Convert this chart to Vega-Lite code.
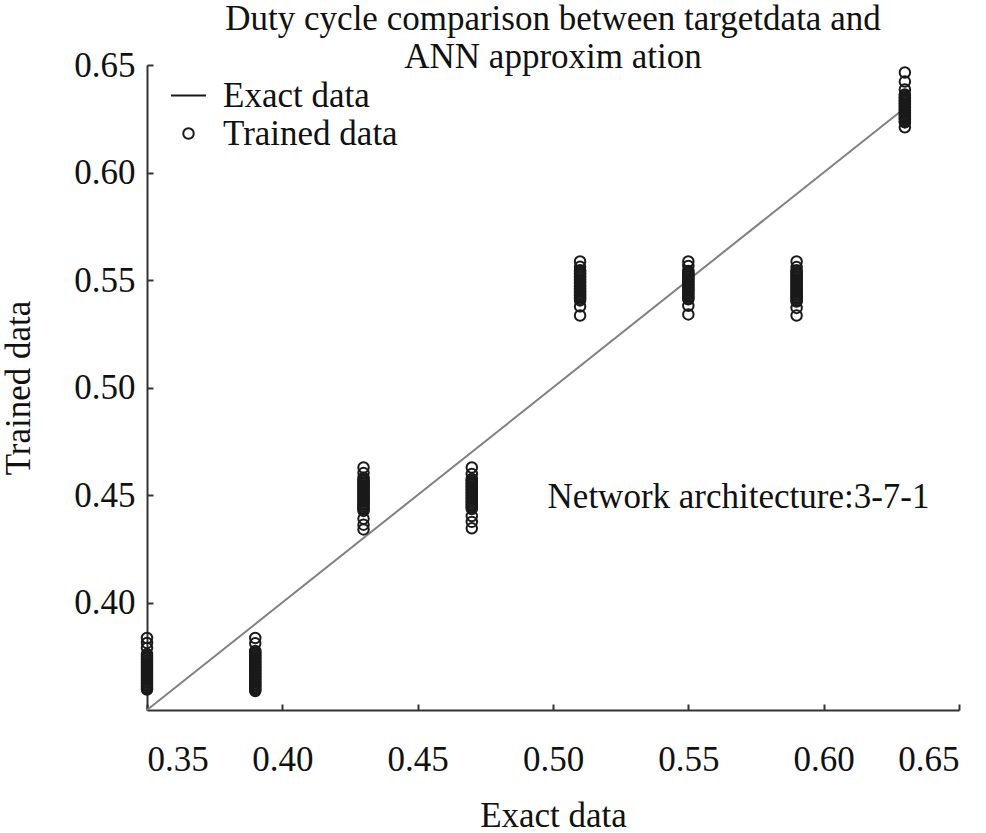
{
  "$schema": "https://vega.github.io/schema/vega-lite/v6.json",
  "autosize": "none",
  "width": 812,
  "height": 645,
  "padding": {"left": 147, "top": 65, "right": 27, "bottom": 123},
  "background": "white",
  "title": {
    "text": ["Duty cycle comparison between targetdata and", "ANN approxim ation"],
    "frame": "group",
    "font": "Liberation Serif",
    "fontSize": 35,
    "fontWeight": "normal",
    "color": "#111",
    "anchor": "middle",
    "baseline": "alphabetic",
    "lineHeight": 38,
    "offset": -55
  },
  "datasets": {
    "exact": [
      {"exact": 0.35, "trained": 0.35},
      {"exact": 0.63, "trained": 0.63}
    ],
    "trained": [
      {"exact": 0.35, "trained": 0.3835}, {"exact": 0.35, "trained": 0.3812}, {"exact": 0.35, "trained": 0.3788},
      {"exact": 0.35, "trained": 0.3760}, {"exact": 0.35, "trained": 0.3753}, {"exact": 0.35, "trained": 0.3746},
      {"exact": 0.35, "trained": 0.3739}, {"exact": 0.35, "trained": 0.3732}, {"exact": 0.35, "trained": 0.3725},
      {"exact": 0.35, "trained": 0.3718}, {"exact": 0.35, "trained": 0.3711}, {"exact": 0.35, "trained": 0.3704},
      {"exact": 0.35, "trained": 0.3697}, {"exact": 0.35, "trained": 0.3690}, {"exact": 0.35, "trained": 0.3683},
      {"exact": 0.35, "trained": 0.3676}, {"exact": 0.35, "trained": 0.3669}, {"exact": 0.35, "trained": 0.3662},
      {"exact": 0.35, "trained": 0.3655}, {"exact": 0.35, "trained": 0.3648}, {"exact": 0.35, "trained": 0.3641},
      {"exact": 0.35, "trained": 0.3634}, {"exact": 0.35, "trained": 0.3627}, {"exact": 0.35, "trained": 0.3620},
      {"exact": 0.35, "trained": 0.3613}, {"exact": 0.35, "trained": 0.3606}, {"exact": 0.35, "trained": 0.3599},
      {"exact": 0.35, "trained": 0.3595},
      {"exact": 0.39, "trained": 0.3835}, {"exact": 0.39, "trained": 0.3810}, {"exact": 0.39, "trained": 0.3775},
      {"exact": 0.39, "trained": 0.3768}, {"exact": 0.39, "trained": 0.3761}, {"exact": 0.39, "trained": 0.3754},
      {"exact": 0.39, "trained": 0.3747}, {"exact": 0.39, "trained": 0.3740}, {"exact": 0.39, "trained": 0.3733},
      {"exact": 0.39, "trained": 0.3726}, {"exact": 0.39, "trained": 0.3719}, {"exact": 0.39, "trained": 0.3712},
      {"exact": 0.39, "trained": 0.3705}, {"exact": 0.39, "trained": 0.3698}, {"exact": 0.39, "trained": 0.3691},
      {"exact": 0.39, "trained": 0.3684}, {"exact": 0.39, "trained": 0.3677}, {"exact": 0.39, "trained": 0.3670},
      {"exact": 0.39, "trained": 0.3663}, {"exact": 0.39, "trained": 0.3656}, {"exact": 0.39, "trained": 0.3649},
      {"exact": 0.39, "trained": 0.3642}, {"exact": 0.39, "trained": 0.3635}, {"exact": 0.39, "trained": 0.3628},
      {"exact": 0.39, "trained": 0.3621}, {"exact": 0.39, "trained": 0.3614}, {"exact": 0.39, "trained": 0.3607},
      {"exact": 0.39, "trained": 0.3600}, {"exact": 0.39, "trained": 0.3594}, {"exact": 0.39, "trained": 0.3588},
      {"exact": 0.43, "trained": 0.4628}, {"exact": 0.43, "trained": 0.4602}, {"exact": 0.43, "trained": 0.4580},
      {"exact": 0.43, "trained": 0.4573}, {"exact": 0.43, "trained": 0.4566}, {"exact": 0.43, "trained": 0.4559},
      {"exact": 0.43, "trained": 0.4552}, {"exact": 0.43, "trained": 0.4545}, {"exact": 0.43, "trained": 0.4538},
      {"exact": 0.43, "trained": 0.4531}, {"exact": 0.43, "trained": 0.4524}, {"exact": 0.43, "trained": 0.4517},
      {"exact": 0.43, "trained": 0.4510}, {"exact": 0.43, "trained": 0.4503}, {"exact": 0.43, "trained": 0.4496},
      {"exact": 0.43, "trained": 0.4489}, {"exact": 0.43, "trained": 0.4482}, {"exact": 0.43, "trained": 0.4475},
      {"exact": 0.43, "trained": 0.4468}, {"exact": 0.43, "trained": 0.4461}, {"exact": 0.43, "trained": 0.4454},
      {"exact": 0.43, "trained": 0.4447}, {"exact": 0.43, "trained": 0.4440}, {"exact": 0.43, "trained": 0.4433},
      {"exact": 0.43, "trained": 0.4426}, {"exact": 0.43, "trained": 0.4390}, {"exact": 0.43, "trained": 0.4362},
      {"exact": 0.43, "trained": 0.4340},
      {"exact": 0.47, "trained": 0.4628}, {"exact": 0.47, "trained": 0.4598}, {"exact": 0.47, "trained": 0.4575},
      {"exact": 0.47, "trained": 0.4568}, {"exact": 0.47, "trained": 0.4561}, {"exact": 0.47, "trained": 0.4554},
      {"exact": 0.47, "trained": 0.4547}, {"exact": 0.47, "trained": 0.4540}, {"exact": 0.47, "trained": 0.4533},
      {"exact": 0.47, "trained": 0.4526}, {"exact": 0.47, "trained": 0.4519}, {"exact": 0.47, "trained": 0.4512},
      {"exact": 0.47, "trained": 0.4505}, {"exact": 0.47, "trained": 0.4498}, {"exact": 0.47, "trained": 0.4491},
      {"exact": 0.47, "trained": 0.4484}, {"exact": 0.47, "trained": 0.4477}, {"exact": 0.47, "trained": 0.4470},
      {"exact": 0.47, "trained": 0.4463}, {"exact": 0.47, "trained": 0.4456}, {"exact": 0.47, "trained": 0.4449},
      {"exact": 0.47, "trained": 0.4442}, {"exact": 0.47, "trained": 0.4435}, {"exact": 0.47, "trained": 0.4402},
      {"exact": 0.47, "trained": 0.4375}, {"exact": 0.47, "trained": 0.4345},
      {"exact": 0.51, "trained": 0.5586}, {"exact": 0.51, "trained": 0.5562}, {"exact": 0.51, "trained": 0.5545},
      {"exact": 0.51, "trained": 0.5538}, {"exact": 0.51, "trained": 0.5531}, {"exact": 0.51, "trained": 0.5524},
      {"exact": 0.51, "trained": 0.5517}, {"exact": 0.51, "trained": 0.5510}, {"exact": 0.51, "trained": 0.5503},
      {"exact": 0.51, "trained": 0.5496}, {"exact": 0.51, "trained": 0.5489}, {"exact": 0.51, "trained": 0.5482},
      {"exact": 0.51, "trained": 0.5475}, {"exact": 0.51, "trained": 0.5468}, {"exact": 0.51, "trained": 0.5461},
      {"exact": 0.51, "trained": 0.5454}, {"exact": 0.51, "trained": 0.5447}, {"exact": 0.51, "trained": 0.5440},
      {"exact": 0.51, "trained": 0.5433}, {"exact": 0.51, "trained": 0.5426}, {"exact": 0.51, "trained": 0.5419},
      {"exact": 0.51, "trained": 0.5412}, {"exact": 0.51, "trained": 0.5405}, {"exact": 0.51, "trained": 0.5377},
      {"exact": 0.51, "trained": 0.5335},
      {"exact": 0.55, "trained": 0.5586}, {"exact": 0.55, "trained": 0.5565}, {"exact": 0.55, "trained": 0.5542},
      {"exact": 0.55, "trained": 0.5535}, {"exact": 0.55, "trained": 0.5528}, {"exact": 0.55, "trained": 0.5521},
      {"exact": 0.55, "trained": 0.5514}, {"exact": 0.55, "trained": 0.5507}, {"exact": 0.55, "trained": 0.5500},
      {"exact": 0.55, "trained": 0.5493}, {"exact": 0.55, "trained": 0.5486}, {"exact": 0.55, "trained": 0.5479},
      {"exact": 0.55, "trained": 0.5472}, {"exact": 0.55, "trained": 0.5465}, {"exact": 0.55, "trained": 0.5458},
      {"exact": 0.55, "trained": 0.5451}, {"exact": 0.55, "trained": 0.5444}, {"exact": 0.55, "trained": 0.5437},
      {"exact": 0.55, "trained": 0.5430}, {"exact": 0.55, "trained": 0.5423}, {"exact": 0.55, "trained": 0.5416},
      {"exact": 0.55, "trained": 0.5410}, {"exact": 0.55, "trained": 0.5380}, {"exact": 0.55, "trained": 0.5340},
      {"exact": 0.59, "trained": 0.5586}, {"exact": 0.59, "trained": 0.5560}, {"exact": 0.59, "trained": 0.5545},
      {"exact": 0.59, "trained": 0.5538}, {"exact": 0.59, "trained": 0.5531}, {"exact": 0.59, "trained": 0.5524},
      {"exact": 0.59, "trained": 0.5517}, {"exact": 0.59, "trained": 0.5510}, {"exact": 0.59, "trained": 0.5503},
      {"exact": 0.59, "trained": 0.5496}, {"exact": 0.59, "trained": 0.5489}, {"exact": 0.59, "trained": 0.5482},
      {"exact": 0.59, "trained": 0.5475}, {"exact": 0.59, "trained": 0.5468}, {"exact": 0.59, "trained": 0.5461},
      {"exact": 0.59, "trained": 0.5454}, {"exact": 0.59, "trained": 0.5447}, {"exact": 0.59, "trained": 0.5440},
      {"exact": 0.59, "trained": 0.5433}, {"exact": 0.59, "trained": 0.5426}, {"exact": 0.59, "trained": 0.5419},
      {"exact": 0.59, "trained": 0.5412}, {"exact": 0.59, "trained": 0.5405}, {"exact": 0.59, "trained": 0.5400},
      {"exact": 0.59, "trained": 0.5370}, {"exact": 0.59, "trained": 0.5335},
      {"exact": 0.63, "trained": 0.6465}, {"exact": 0.63, "trained": 0.6423}, {"exact": 0.63, "trained": 0.6386},
      {"exact": 0.63, "trained": 0.6363}, {"exact": 0.63, "trained": 0.6356}, {"exact": 0.63, "trained": 0.6349},
      {"exact": 0.63, "trained": 0.6342}, {"exact": 0.63, "trained": 0.6335}, {"exact": 0.63, "trained": 0.6328},
      {"exact": 0.63, "trained": 0.6321}, {"exact": 0.63, "trained": 0.6314}, {"exact": 0.63, "trained": 0.6307},
      {"exact": 0.63, "trained": 0.6300}, {"exact": 0.63, "trained": 0.6293}, {"exact": 0.63, "trained": 0.6286},
      {"exact": 0.63, "trained": 0.6279}, {"exact": 0.63, "trained": 0.6272}, {"exact": 0.63, "trained": 0.6265},
      {"exact": 0.63, "trained": 0.6258}, {"exact": 0.63, "trained": 0.6251}, {"exact": 0.63, "trained": 0.6244},
      {"exact": 0.63, "trained": 0.6237}, {"exact": 0.63, "trained": 0.6233}, {"exact": 0.63, "trained": 0.6210}
    ],
    "note": [
      {"exact": 0.498, "trained": 0.449, "label": "Network architecture:3-7-1"}
    ]
  },
  "encoding": {
    "x": {
      "field": "exact",
      "type": "quantitative",
      "title": "Exact data",
      "scale": {"domain": [0.35, 0.65], "nice": false, "zero": false},
      "axis": {"values": [0.35, 0.4, 0.45, 0.5, 0.55, 0.6, 0.65], "format": ".2f"}
    },
    "y": {
      "field": "trained",
      "type": "quantitative",
      "title": "Trained data",
      "scale": {"domain": [0.35, 0.65], "nice": false, "zero": false},
      "axis": {"values": [0.4, 0.45, 0.5, 0.55, 0.6, 0.65], "format": ".2f", "titlePadding": 37}
    }
  },
  "layer": [
    {
      "data": {"name": "exact"},
      "mark": {"type": "line", "color": "#808080", "strokeWidth": 2},
      "encoding": {}
    },
    {
      "data": {"name": "trained"},
      "mark": {"type": "point", "filled": false, "stroke": "#1a1a1a", "strokeWidth": 2, "opacity": 1},
      "encoding": {
        "shape": {
          "datum": "Trained data",
          "type": "nominal",
          "scale": {"domain": ["Exact data", "Trained data"], "range": ["stroke", "circle"]},
          "legend": {
            "title": null,
            "orient": "none",
            "legendX": 23,
            "legendY": 12,
            "padding": 0,
            "rowPadding": 2,
            "labelFont": "Liberation Serif",
            "labelFontSize": 35,
            "labelColor": "#111",
            "labelOffset": 16,
            "labelLimit": 400,
            "symbolStrokeColor": "#555",
            "symbolStrokeWidth": 2
          }
        },
        "size": {
          "datum": "Trained data",
          "type": "nominal",
          "scale": {"domain": ["Exact data", "Trained data"], "range": [1225, 110]}
        }
      }
    },
    {
      "data": {"name": "note"},
      "mark": {"type": "text", "align": "left", "baseline": "middle", "font": "Liberation Serif", "fontSize": 35, "color": "#111"},
      "encoding": {"text": {"field": "label"}}
    }
  ],
  "config": {
    "view": {"stroke": null},
    "axis": {
      "grid": false,
      "domainColor": "#333",
      "domainWidth": 2,
      "tickColor": "#333",
      "tickWidth": 2,
      "tickSize": -6,
      "labelFont": "Liberation Serif",
      "labelFontSize": 35,
      "labelColor": "#111",
      "titleFont": "Liberation Serif",
      "titleFontSize": 35,
      "titleFontWeight": "normal",
      "titleColor": "#111"
    },
    "axisX": {"labelPadding": 38, "titlePadding": 21},
    "axisY": {"labelPadding": 18}
  }
}
